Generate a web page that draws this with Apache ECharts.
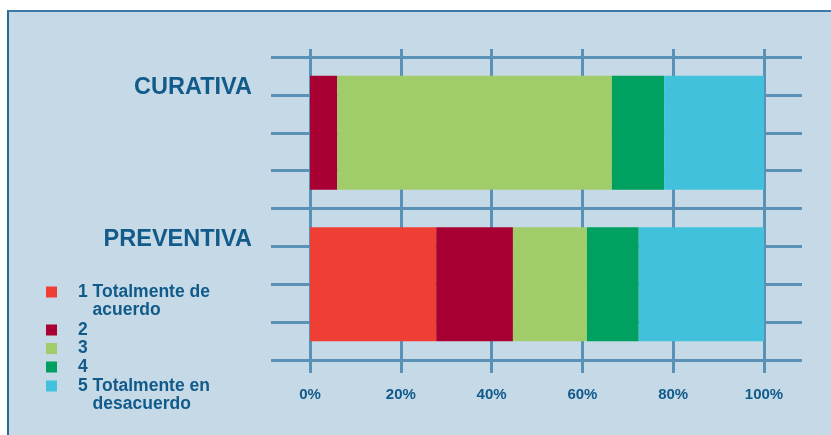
<!DOCTYPE html>
<html>
<head>
<meta charset="utf-8">
<script src="https://cdn.jsdelivr.net/npm/echarts@6/dist/echarts.min.js"></script>
<style>
html,body{margin:0;padding:0;background:#ffffff;width:831px;height:435px;overflow:hidden;}
#box{position:absolute;left:7px;top:10px;width:840px;height:440px;background:#c5d9e6;border-left:2px solid #2a6896;border-top:2px solid #3b7aa6;}
#chart{position:absolute;left:0;top:0;width:831px;height:435px;}
</style>
</head>
<body>
<div id="box"></div>
<div id="chart"></div>
<script>
const categories = ['CURATIVA', 'PREVENTIVA'];
const seriesNames = ['1 Totalmente de acuerdo', '2', '3', '4', '5 Totalmente en desacuerdo'];
const legendLabels = ['\n1 Totalmente de\n   acuerdo', '2', '3', '4', '\n5 Totalmente en\n   desacuerdo'];
const s1 = [0, 27.8];
const s2 = [6.0, 16.9];
const s3 = [60.5, 16.3];
const s4 = [11.5, 11.4];
const s5 = [22.0, 27.6];
const xTicks = [0, 20, 40, 60, 80, 100];
const colors = ['#ef3e33', '#a90034', '#a0cd69', '#00a160', '#41c1dc'];

const seriesData = [s1, s2, s3, s4, s5];
const textColor = '#115a8a';
const lineColor = '#5a92b7';
const font = "'Liberation Sans', Arial, sans-serif";

const chart = echarts.init(document.getElementById('chart'), null, {renderer: 'canvas'});

function legendFor(indices, top) {
  return {
    orient: 'vertical',
    left: 46,
    top: top,
    padding: 0,
    itemGap: 0,
    itemWidth: 11,
    itemHeight: 11,
    icon: 'rect',
    selectedMode: false,
    data: indices.map(i => seriesNames[i]),
    formatter: function (name) { return legendLabels[seriesNames.indexOf(name)]; },
    textStyle: {
      color: textColor,
      fontFamily: font,
      fontWeight: 'bold',
      fontSize: 17.5,
      lineHeight: 18.5,
      padding: [0, 0, 0, 16]
    }
  };
}

const option = {
  backgroundColor: 'transparent',
  animation: false,
  grid: [
    {left: 310, width: 454, top: 49, height: 324},
    {left: 271, width: 531, top: 57, height: 303},
    {left: 310, width: 454, top: 57, height: 303}
  ],
  xAxis: [
    {gridIndex: 0, type: 'value', min: 0, max: 100, interval: 20,
     axisLine: {show: false}, axisTick: {show: false}, axisLabel: {show: false},
     splitLine: {show: true, lineStyle: {color: lineColor, width: 3}}},
    {gridIndex: 1, type: 'value', min: 0, max: 1, show: false},
    {gridIndex: 2, type: 'value', min: 0, max: 100, interval: 20,
     axisLine: {show: false}, axisTick: {show: false}, splitLine: {show: false},
     axisLabel: {formatter: function (v) { return xTicks.indexOf(v) >= 0 ? v + '%' : ''; },
                 color: textColor, fontFamily: font, fontWeight: 'bold', fontSize: 15, margin: 27}}
  ],
  yAxis: [
    {gridIndex: 0, type: 'value', min: 0, max: 1, show: false},
    {gridIndex: 1, type: 'value', min: 0, max: 8, interval: 1,
     axisLine: {show: false}, axisTick: {show: false}, axisLabel: {show: false},
     splitLine: {show: true, lineStyle: {color: lineColor, width: 3}}},
    {gridIndex: 2, type: 'category', data: categories, inverse: true,
     axisLine: {show: false}, axisTick: {show: false}, splitLine: {show: false},
     axisLabel: {color: textColor, fontFamily: font, fontWeight: 'bold', fontSize: 23.5,
                 margin: 58, verticalAlign: 'bottom', lineHeight: 90}}
  ],
  legend: [
    legendFor([0], 264.25),
    legendFor([1, 2, 3], 320.75),
    legendFor([4], 358.25)
  ],
  series: seriesData.map((d, i) => ({
    name: seriesNames[i],
    type: 'bar',
    stack: 'total',
    xAxisIndex: 2,
    yAxisIndex: 2,
    barWidth: 114,
    itemStyle: {color: colors[i]},
    data: d
  }))
};
chart.setOption(option);
</script>
</body>
</html>
